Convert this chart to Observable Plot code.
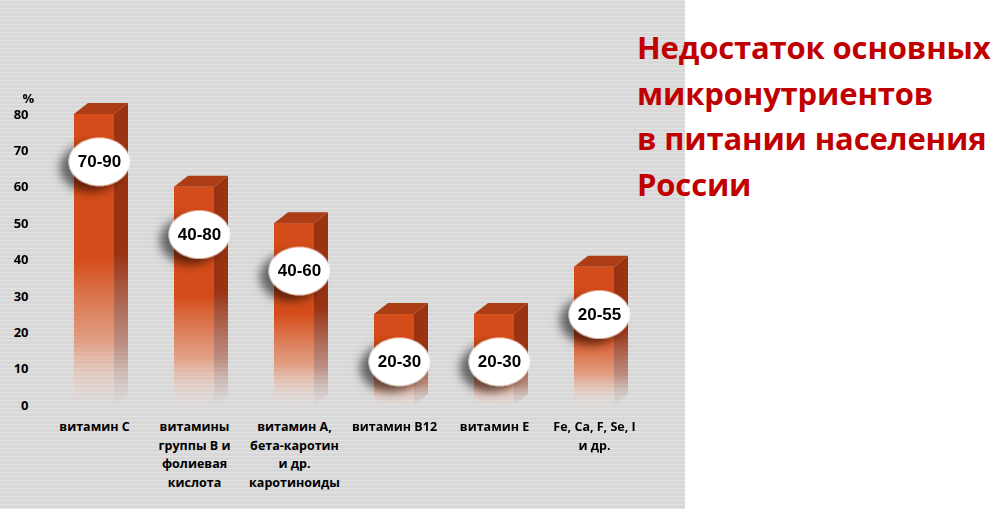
<!DOCTYPE html>
<html><head><meta charset="utf-8">
<script src="https://cdn.jsdelivr.net/npm/d3@7"></script>
<script src="https://cdn.jsdelivr.net/npm/@observablehq/plot@0.6"></script>
<style>
html,body{margin:0;padding:0;background:#fff;}
#wrap{position:relative;width:1004px;height:509px;overflow:hidden;background:#fff;}
#bg{position:absolute;left:0;top:0;width:685px;height:509px;background:#d8d8d8;
  background-image:repeating-linear-gradient(0deg, rgba(255,255,255,0.28) 0px, rgba(255,255,255,0.28) 1px, rgba(0,0,0,0) 1px, rgba(0,0,0,0) 4px);}
#chart{position:absolute;left:0;top:0;}
#title{position:absolute;left:637px;top:25px;font-family:"Open Sans",sans-serif;font-weight:bold;font-size:31px;letter-spacing:-0.15px;color:#c00000;line-height:45.5px;white-space:nowrap;}
</style></head>
<body><div id="wrap"><div id="bg"></div><div id="chart"></div>
<div id="title">Недостаток основных<br>микронутриентов<br>в питании населения<br>России</div></div>
<script>
const categories = ["витамин С", "витамины\nгруппы В и\nфолиевая\nкислота", "витамин А,\nбета-каротин\nи др.\nкаротиноиды", "витамин В12", "витамин Е", "Fe, Ca, F, Se, I\nи др."];
const values = [80, 60, 50, 25, 25, 38];
const ranges = ["70-90", "40-80", "40-60", "20-30", "20-30", "20-55"];
const yTicks = [0, 10, 20, 30, 40, 50, 60, 70, 80];
const unitLabel = "%";

const data = categories.map((c, i) => ({c, v: values[i], r: ranges[i]}));

const DX = 14, DY = 11;

function defs() {
  const d = d3.create("svg:defs");
  const fg = d.append("linearGradient").attr("id", "frontGrad").attr("x1", 0).attr("y1", 0).attr("x2", 0).attr("y2", 1);
  fg.append("stop").attr("offset", 0).attr("stop-color", "#d44c19");
  fg.append("stop").attr("offset", 0.5).attr("stop-color", "#d44c19");
  fg.append("stop").attr("offset", 0.78).attr("stop-color", "#e48a66").attr("stop-opacity", 0.75);
  fg.append("stop").attr("offset", 1).attr("stop-color", "#f6d6c8").attr("stop-opacity", 0.05);
  const sg = d.append("linearGradient").attr("id", "sideGrad").attr("x1", 0).attr("y1", 0).attr("x2", 0).attr("y2", 1);
  sg.append("stop").attr("offset", 0).attr("stop-color", "#9a3312");
  sg.append("stop").attr("offset", 0.5).attr("stop-color", "#9a3312");
  sg.append("stop").attr("offset", 0.8).attr("stop-color", "#a85a45").attr("stop-opacity", 0.6);
  sg.append("stop").attr("offset", 1).attr("stop-color", "#c0a8a0").attr("stop-opacity", 0.05);
  const f = d.append("filter").attr("id", "shadow").attr("x", "-60%").attr("y", "-60%").attr("width", "220%").attr("height", "220%");
  f.append("feDropShadow").attr("dx", -9).attr("dy", 6).attr("stdDeviation", 5).attr("flood-color", "#000").attr("flood-opacity", 0.55);
  return d.node();
}

function faces(index, scales) {
  const x = scales.x, y = scales.y;
  const bw = x.bandwidth ? x.bandwidth() : 40;
  const g = d3.create("svg:g").attr("aria-label", "bar-3d");
  for (const d of data) {
    const x0 = x(d.c), x1 = x0 + bw, yt = y(d.v), yb = y(0);
    g.append("path").attr("d", `M${x1},${yt}L${x1 + DX},${yt - DY}L${x1 + DX},${yb - DY}L${x1},${yb}Z`).attr("fill", "url(#sideGrad)");
    g.append("path").attr("d", `M${x0},${yt}L${x0 + DX},${yt - DY}L${x1 + DX},${yt - DY}L${x1},${yt}Z`).attr("fill", "#ad3d15");
  }
  return g.node();
}

const K = 0.5523;
const ellipse = {
  draw(ctx, size) {
    const r = Math.sqrt(size / Math.PI);
    const rx = r * 1.27, ry = r;
    ctx.moveTo(rx, 0);
    ctx.bezierCurveTo(rx, K * ry, K * rx, ry, 0, ry);
    ctx.bezierCurveTo(-K * rx, ry, -rx, K * ry, -rx, 0);
    ctx.bezierCurveTo(-rx, -K * ry, -K * rx, -ry, 0, -ry);
    ctx.bezierCurveTo(K * rx, -ry, rx, -K * ry, rx, 0);
    ctx.closePath();
  }
};

const labelY = d => d.v - 13;

const chart = Plot.plot({
  width: 685,
  height: 509,
  marginLeft: 42,
  marginRight: 40,
  marginTop: 114,
  marginBottom: 104,
  style: {background: "transparent", color: "black", fontFamily: "'Open Sans', sans-serif", overflow: "visible"},
  x: {domain: categories, paddingInner: 0.6, paddingOuter: 0.3, label: null},
  y: {domain: [0, 80], label: null},
  marks: [
    defs,
    Plot.barY(data, {x: "c", y: "v", fill: "url(#frontGrad)"}),
    faces,
    Plot.dot(data, {x: "c", y: labelY, dx: 5, r: 24, symbol: ellipse, fill: "white", stroke: "none"}),
    Plot.text(data, {x: "c", y: labelY, dx: 5, text: "r", fontSize: 17, fontWeight: "bold", fontFamily: "'Liberation Sans', Arial, sans-serif", fill: "black"}),
    Plot.axisY({ticks: yTicks, tickSize: 0, tickPadding: 14, fontSize: 13, fontWeight: "bold", label: null}),
    Plot.axisX({tickSize: 0, tickPadding: 12, fontSize: 12.5, fontWeight: "bold", lineHeight: 1.5, label: null}),
    Plot.text([unitLabel], {frameAnchor: "top-left", dx: -20, dy: -21, fontSize: 13, fontWeight: "bold"})
  ]
});
chart.querySelectorAll('g[aria-label="dot"]').forEach(g => g.setAttribute("filter", "url(#shadow)"));
document.getElementById("chart").appendChild(chart);
</script>
</body></html>
